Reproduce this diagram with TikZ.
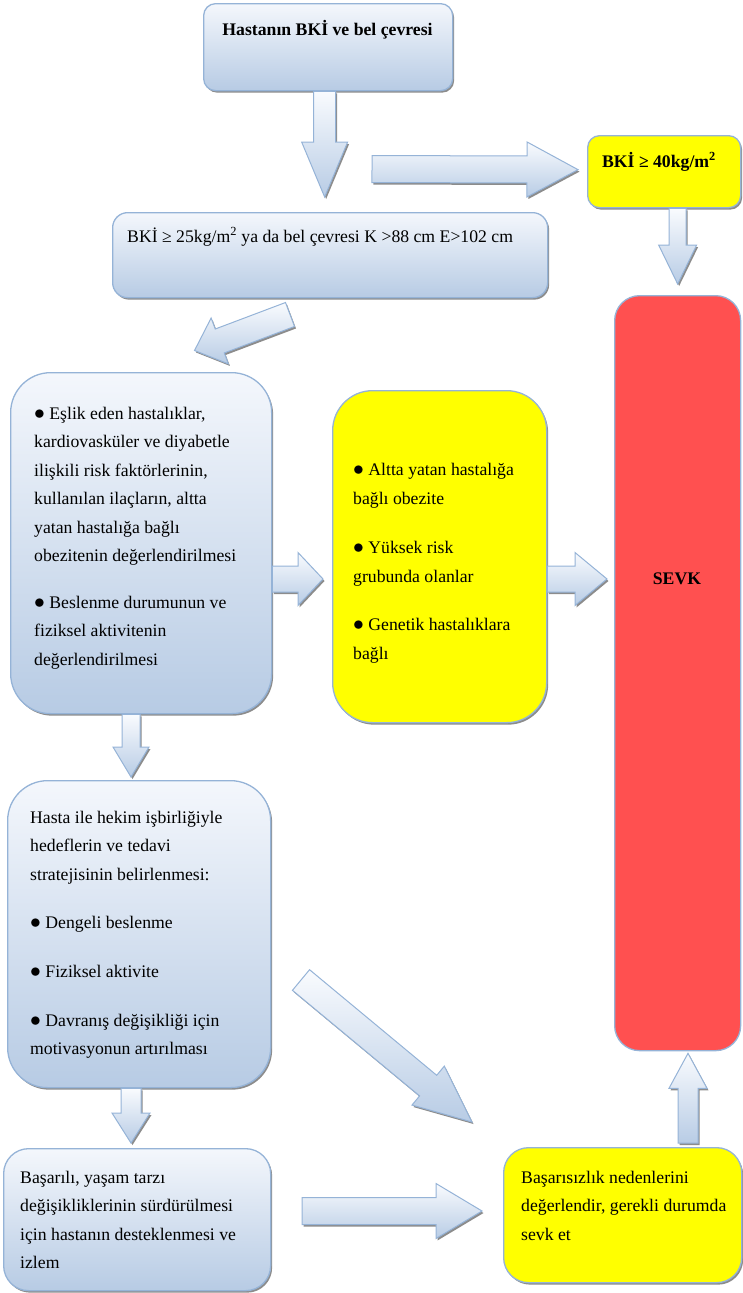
\documentclass[tikz,border=0pt]{standalone}
\usepackage{fontspec}
\setmainfont{Liberation Serif}
\usetikzlibrary{calc,shadows}

\definecolor{boxtop}{RGB}{244,247,252}
\definecolor{boxbot}{RGB}{183,203,228}
\definecolor{edgeblue}{RGB}{149,179,215}
\definecolor{arrtop}{RGB}{249,251,254}
\definecolor{arrbot}{RGB}{184,204,229}
\definecolor{yel}{RGB}{255,255,0}
\definecolor{sevkred}{RGB}{255,80,80}

\newcommand\bul{\scalebox{1.25}{$\bullet$}}

% block arrow: #1 start, #2 tip, #3 half shaft width, #4 half head width, #5 head length
\newcommand\blockarrow[5]{%
  \coordinate (hb) at ($(#2)!#5!(#1)$);
  \path[arrowbody]
    ($(#1)!#3!90:(#2)$) -- ($(hb)!#3!90:(#2)$) -- ($(hb)!#4!90:(#2)$) -- (#2)
    -- ($(hb)!#4!-90:(#2)$) -- ($(hb)!#3!-90:(#2)$) -- ($(#1)!#3!-90:(#2)$) -- cycle;
}

\tikzset{
  boxshadow/.style={drop shadow={shadow xshift=1.5pt, shadow yshift=-2pt, fill=black, opacity=0.45}},
  boxbase/.style={draw=edgeblue, line width=1.3pt, inner sep=0pt, anchor=north west},
  bluebox/.style={boxbase, top color=boxtop, bottom color=boxbot, boxshadow},
  yellowbox/.style={boxbase, fill=yel, boxshadow},
  redbox/.style={boxbase, fill=sevkred},
  arrowbody/.style={draw=edgeblue, line width=1pt, top color=arrtop, bottom color=arrbot, boxshadow, line join=miter},
  txt/.style={inner sep=0pt, anchor=base west, font=\fontsize{17.7}{21}\selectfont},
  btxt/.style={inner sep=0pt, anchor=base, font=\fontsize{17.7}{21}\selectfont\bfseries},
}

\begin{document}
\begin{tikzpicture}[x=1pt, y=-1pt]
\useasboundingbox (0,0) rectangle (742,1293);

% ---- boxes ----
\node[bluebox, rounded corners=12pt, minimum width=249pt, minimum height=87pt] (top) at (203,3) {};
\node[yellowbox, rounded corners=12pt, minimum width=153pt, minimum height=72pt] (bmi40) at (587,135) {};
\node[bluebox, rounded corners=15pt, minimum width=435pt, minimum height=85pt] (bmi25) at (112,212) {};
\node[redbox, rounded corners=25pt, minimum width=126pt, minimum height=755pt] (sevk) at (614,295) {};
\node[bluebox, rounded corners=40pt, minimum width=261pt, minimum height=341pt] (box1) at (10,372) {};
\node[yellowbox, rounded corners=40pt, minimum width=214pt, minimum height=332pt] (ybox) at (332,390) {};
\node[bluebox, rounded corners=40pt, minimum width=263pt, minimum height=307pt] (box2) at (7,780) {};
\node[bluebox, rounded corners=25pt, minimum width=267pt, minimum height=142pt] (box3) at (3,1148) {};
\node[yellowbox, rounded corners=25pt, minimum width=238pt, minimum height=135pt] (box4) at (503,1147) {};

% ---- texts ----
\node[btxt] (ttop) at (327.5,35) {Hastanın BKİ ve bel çevresi};
\node[btxt] (t40) at (659,167) {BKİ ≥ 40kg/m\textsuperscript{2}};
\node[txt] (t25) at (127,242) {BKİ ≥ 25kg/m\textsuperscript{2} ya da bel çevresi K >88 cm E>102 cm};
\node[btxt] (tsevk) at (677,584) {SEVK};

\node[txt] (b1l1) at (34,419) {\bul{} Eşlik eden hastalıklar,};
\node[txt] (b1l2) at (34,447.5) {kardiovasküler ve diyabetle};
\node[txt] (b1l3) at (34,476) {ilişkili risk faktörlerinin,};
\node[txt] (b1l4) at (34,504.5) {kullanılan ilaçların, altta};
\node[txt] (b1l5) at (34,533) {yatan hastalığa bağlı};
\node[txt] (b1l6) at (34,561.5) {obezitenin değerlendirilmesi};
\node[txt] (b1l7) at (34,608) {\bul{} Beslenme durumunun ve};
\node[txt] (b1l8) at (34,636.5) {fiziksel aktivitenin};
\node[txt] (b1l9) at (34,665) {değerlendirilmesi};

\node[txt] (yl1) at (353,475) {\bul{} Altta yatan hastalığa};
\node[txt] (yl2) at (353,504) {bağlı obezite};
\node[txt] (yl3) at (353,553) {\bul{} Yüksek risk};
\node[txt] (yl4) at (353,582) {grubunda olanlar};
\node[txt] (yl5) at (353,630) {\bul{} Genetik hastalıklara};
\node[txt] (yl6) at (353,659) {bağlı};

\node[txt] (b2l1) at (30,823) {Hasta ile hekim işbirliğiyle};
\node[txt] (b2l2) at (30,851.5) {hedeflerin ve tedavi};
\node[txt] (b2l3) at (30,880) {stratejisinin belirlenmesi:};
\node[txt] (b2l4) at (30,928) {\bul{} Dengeli beslenme};
\node[txt] (b2l5) at (30,977) {\bul{} Fiziksel aktivite};
\node[txt] (b2l6) at (30,1026) {\bul{} Davranış değişikliği için};
\node[txt] (b2l7) at (30,1054.5) {motivasyonun artırılması};

\node[txt] (b3l1) at (20,1183) {Başarılı, yaşam tarzı};
\node[txt] (b3l2) at (20,1211.5) {değişikliklerinin sürdürülmesi};
\node[txt] (b3l3) at (20,1240) {için hastanın desteklenmesi ve};
\node[txt] (b3l4) at (20,1268.5) {izlem};

\node[txt] (b4l1) at (521,1183) {Başarısızlık nedenlerini};
\node[txt] (b4l2) at (521,1211.5) {değerlendir, gerekli durumda};
\node[txt] (b4l3) at (521,1240) {sevk et};

% ---- arrow end points ----
\coordinate (a1s) at ([xshift=-3.5pt]top.south);
\coordinate (a1t) at ($(bmi25.north)+(-5.5,-15)$);
\coordinate (a2s) at (372,169);
\coordinate (a2t) at ($(bmi40.west)+(-9,-2)$);
\coordinate (a3s) at (bmi40.south -| sevk.north);
\coordinate (a3t) at ($(sevk.north)+(0,-11)$);
\coordinate (a4s) at (290,314.5);
\coordinate (a4t) at (194.5,350.5);
\coordinate (a5s) at ($(box1.north east)+(0,207)$);
\coordinate (a5t) at ($(ybox.north west)+(-9,189)$);
\coordinate (a6s) at ($(ybox.north east)+(0,189)$);
\coordinate (a6t) at ($(sevk.north west)+(-7,284)$);
\coordinate (a7s) at ($(box1.south west)+(121,0)$);
\coordinate (a7t) at ($(box2.north west)+(124,-3)$);
\coordinate (a8s) at (301,980);
\coordinate (a8t) at (472,1122);
\coordinate (a9s) at ($(box2.south west)+(124,0)$);
\coordinate (a9t) at ($(box3.north west)+(128,-5)$);
\coordinate (a10s) at (302,1211);
\coordinate (a10t) at ($(box4.north west)+(-21,64)$);
\coordinate (a11s) at ($(box4.north west)+(185,-4)$);
\coordinate (a11t) at ($(sevk.south west)+(74,2)$);

% ---- arrows ----
\blockarrow{a1s}{a1t}{11pt}{23pt}{55pt}
\blockarrow{a2s}{a2t}{13.5pt}{27.5pt}{51pt}
\blockarrow{a3s}{a3t}{8.5pt}{19pt}{39pt}
\blockarrow{a4s}{a4t}{12.8pt}{24.5pt}{27pt}
\blockarrow{a5s}{a5t}{13pt}{26.5pt}{25pt}
\blockarrow{a6s}{a6t}{13pt}{26.5pt}{32pt}
\blockarrow{a7s}{a7t}{9pt}{18pt}{30pt}
\blockarrow{a8s}{a8t}{13.4pt}{25.3pt}{57pt}
\blockarrow{a9s}{a9t}{10pt}{19pt}{30pt}
\blockarrow{a10s}{a10t}{13.5pt}{27.5pt}{46pt}
\blockarrow{a11s}{a11t}{10pt}{19pt}{35pt}
\end{tikzpicture}
\end{document}
